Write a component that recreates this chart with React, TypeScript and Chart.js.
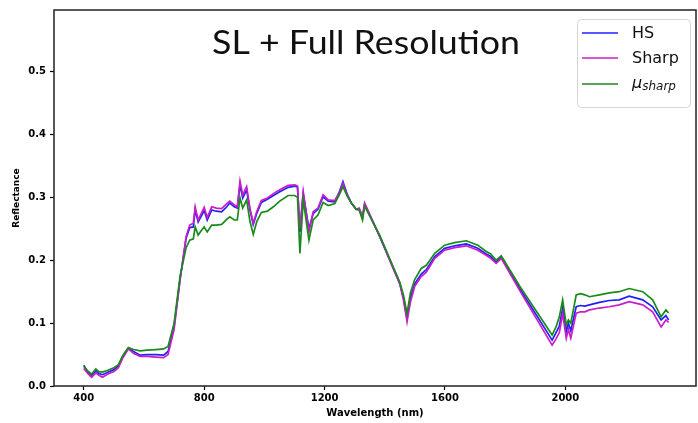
import React, { useEffect, useRef } from 'react';
import { Chart, registerables } from 'chart.js';

Chart.register(...registerables);

const wavelengths = [
  400, 413, 426, 440, 450, 462, 480, 500, 515, 530, 548, 565, 587, 610, 640, 665, 680, 700, 720, 740,
  752, 764, 770, 780, 790, 800, 810, 825, 840, 858, 875, 885, 900, 910, 919, 928, 941, 952, 963, 975,
  990, 1010, 1030, 1051, 1079, 1101, 1110, 1118, 1129, 1148, 1162, 1178, 1195, 1212, 1234, 1250, 1261, 1275, 1289, 1305,
  1315, 1326, 1333, 1383, 1450, 1462, 1474, 1485, 1499, 1521, 1538, 1566, 1599, 1632, 1671, 1709, 1737, 1752, 1770, 1787,
  1848, 1956, 1969, 1980, 1991, 2003, 2010, 2018, 2036, 2050, 2065, 2080, 2113, 2146, 2179, 2212, 2257, 2290, 2318, 2334,
  2343,
];

const hsValues = [
  0.033, 0.022, 0.017, 0.024, 0.020, 0.018, 0.022, 0.026, 0.032, 0.047, 0.060, 0.055, 0.049, 0.050, 0.050, 0.049, 0.055, 0.095, 0.170, 0.235,
  0.252, 0.253, 0.280, 0.261, 0.270, 0.279, 0.264, 0.280, 0.278, 0.277, 0.285, 0.291, 0.285, 0.283, 0.320, 0.299, 0.312, 0.280, 0.257, 0.275,
  0.292, 0.297, 0.303, 0.309, 0.316, 0.318, 0.316, 0.245, 0.306, 0.250, 0.274, 0.281, 0.301, 0.294, 0.293, 0.310, 0.325, 0.305, 0.291, 0.281,
  0.281, 0.268, 0.289, 0.238, 0.163, 0.140, 0.109, 0.140, 0.162, 0.178, 0.185, 0.206, 0.219, 0.223, 0.226, 0.219, 0.210, 0.206, 0.197, 0.205,
  0.155, 0.073, 0.085, 0.095, 0.124, 0.086, 0.100, 0.088, 0.126, 0.128, 0.127, 0.129, 0.133, 0.136, 0.137, 0.143, 0.137, 0.126, 0.105, 0.112,
  0.105,
];

const sharpValues = [
  0.028, 0.020, 0.014, 0.021, 0.017, 0.014, 0.019, 0.023, 0.029, 0.045, 0.059, 0.052, 0.047, 0.047, 0.046, 0.045, 0.050, 0.090, 0.170, 0.238,
  0.256, 0.259, 0.285, 0.264, 0.274, 0.284, 0.268, 0.285, 0.283, 0.282, 0.290, 0.294, 0.288, 0.285, 0.326, 0.304, 0.317, 0.283, 0.259, 0.278,
  0.295, 0.299, 0.306, 0.312, 0.319, 0.320, 0.318, 0.250, 0.309, 0.245, 0.277, 0.283, 0.304, 0.296, 0.295, 0.308, 0.322, 0.304, 0.291, 0.281,
  0.283, 0.270, 0.291, 0.238, 0.162, 0.137, 0.102, 0.133, 0.158, 0.174, 0.181, 0.203, 0.216, 0.220, 0.223, 0.216, 0.208, 0.203, 0.195, 0.203,
  0.152, 0.065, 0.075, 0.085, 0.115, 0.076, 0.090, 0.076, 0.116, 0.118, 0.118, 0.121, 0.124, 0.126, 0.129, 0.134, 0.129, 0.118, 0.094, 0.105,
  0.101,
];

const muSharpValues = [
  0.031, 0.024, 0.019, 0.027, 0.023, 0.022, 0.025, 0.029, 0.034, 0.049, 0.061, 0.058, 0.056, 0.057, 0.058, 0.059, 0.063, 0.100, 0.175, 0.220,
  0.232, 0.234, 0.253, 0.240, 0.247, 0.253, 0.245, 0.256, 0.256, 0.257, 0.265, 0.269, 0.264, 0.264, 0.299, 0.283, 0.296, 0.262, 0.241, 0.262,
  0.276, 0.278, 0.285, 0.294, 0.303, 0.303, 0.300, 0.211, 0.296, 0.232, 0.264, 0.272, 0.292, 0.287, 0.290, 0.305, 0.317, 0.302, 0.291, 0.281,
  0.280, 0.264, 0.286, 0.240, 0.165, 0.145, 0.115, 0.148, 0.169, 0.187, 0.192, 0.211, 0.224, 0.228, 0.231, 0.224, 0.214, 0.210, 0.200, 0.207,
  0.159, 0.081, 0.094, 0.110, 0.137, 0.097, 0.105, 0.100, 0.145, 0.147, 0.145, 0.142, 0.145, 0.148, 0.150, 0.155, 0.150, 0.137, 0.110, 0.121,
  0.116,
];

const xTickLabels = [400, 800, 1200, 1600, 2000];
const yTickLabels = [0.0, 0.1, 0.2, 0.3, 0.4, 0.5];
const titleText = 'SL + Full Resolution';
const xAxisTitle = 'Wavelength (nm)';
const yAxisTitle = 'Reflectance';
const seriesNames = ['HS', 'Sharp', 'μ'];
const muSubscript = 'sharp';
const seriesColors = ['#2020ff', '#c81ec8', '#1a8a1a'];

export default function App() {
  const ref = useRef<HTMLCanvasElement>(null);

  useEffect(() => {
    document.body.style.margin = '0';
    const canvas = ref.current!;
    const toPts = (vals: number[]) => wavelengths.map((w, i) => ({ x: w, y: vals[i] }));

    const overlay = {
      id: 'overlay',
      afterDraw(chart: any) {
        const c = chart.ctx as CanvasRenderingContext2D;
        const a = chart.chartArea;
        c.save();
        // frame
        c.strokeStyle = '#222';
        c.lineWidth = 1.5;
        c.strokeRect(a.left, a.top, a.right - a.left, a.bottom - a.top);

        // title
        c.fillStyle = '#111';
        c.font = '400 33px Lato';
        c.textAlign = 'left';
        c.textBaseline = 'alphabetic';
        const tw = c.measureText(titleText).width;
        const targetW = 308;
        const sx = targetW / tw;
        c.save();
        c.translate(366 - targetW / 2, 54);
        c.scale(sx, 1);
        c.fillText(titleText, 0, 0);
        c.restore();

        // legend box
        c.fillStyle = 'rgba(255,255,255,0.85)';
        c.strokeStyle = '#d6d6d6';
        c.lineWidth = 1;
        c.beginPath();
        (c as any).roundRect(577.5, 19.5, 113, 88, 4);
        c.fill();
        c.stroke();
        const rows = [33, 58, 84];
        for (let i = 0; i < 3; i++) {
          c.strokeStyle = seriesColors[i];
          c.lineWidth = 1.5;
          c.beginPath();
          c.moveTo(582, rows[i]);
          c.lineTo(618, rows[i]);
          c.stroke();
        }
        c.fillStyle = '#111';
        c.textBaseline = 'middle';
        c.font = '16px "DejaVu Sans"';
        c.fillText(seriesNames[0], 632, rows[0] + 1);
        c.fillText(seriesNames[1], 632, rows[1] + 1);
        c.font = 'italic 16px "DejaVu Sans"';
        c.fillText(seriesNames[2], 632, rows[2]);
        const mw = c.measureText(seriesNames[2]).width;
        c.font = 'italic 12px "DejaVu Sans"';
        c.fillText(muSubscript, 632 + mw, rows[2] + 3);

        // axis titles
        c.fillStyle = '#000';
        c.font = 'bold 10px "DejaVu Sans"';
        c.textAlign = 'center';
        c.textBaseline = 'middle';
        c.fillText(xAxisTitle, (a.left + a.right) / 2, 413);
        c.save();
        c.translate(17, (a.top + a.bottom) / 2);
        c.rotate(-Math.PI / 2);
        c.font = 'bold 9px "DejaVu Sans"';
        c.fillText(yAxisTitle, 0, 0);
        c.restore();
        c.restore();
      },
    };

    const gridOpts = {
      display: true,
      drawOnChartArea: false,
      drawTicks: true,
      tickLength: 4,
      tickColor: '#000',
      tickWidth: 1.2,
    };

    const chart = new Chart(canvas, {
      type: 'line',
      data: {
        datasets: [
          { label: 'HS', data: toPts(hsValues), borderColor: seriesColors[0], order: 3 },
          { label: 'Sharp', data: toPts(sharpValues), borderColor: seriesColors[1], order: 2 },
          { label: 'mu_sharp', data: toPts(muSharpValues), borderColor: seriesColors[2], order: 1 },
        ],
      },
      options: {
        responsive: false,
        animation: false,
        layout: { padding: { top: 10, right: 2, left: 0, bottom: 0 } },
        plugins: { legend: { display: false }, tooltip: { enabled: false }, title: { display: false } },
        elements: {
          point: { radius: 0 },
          line: { tension: 0, borderWidth: 1.7, fill: false },
        },
        scales: {
          x: {
            type: 'linear',
            min: 301,
            max: 2434,
            afterBuildTicks: (s: any) => {
              s.ticks = xTickLabels.map((v) => ({ value: v }));
            },
            afterFit: (s: any) => {
              s.height = 37;
            },
            grid: gridOpts,
            border: { display: false },
            ticks: {
              color: '#000',
              font: { family: 'DejaVu Sans', size: 10, weight: 'bold' },
              padding: 2,
              maxRotation: 0,
              autoSkip: false,
              callback: (v: any) => String(v),
            },
          },
          y: {
            type: 'linear',
            min: 0,
            max: 0.598,
            afterBuildTicks: (s: any) => {
              s.ticks = yTickLabels.map((v) => ({ value: v }));
            },
            afterFit: (s: any) => {
              s.width = 54;
            },
            grid: gridOpts,
            border: { display: false },
            ticks: {
              color: '#000',
              font: { family: 'DejaVu Sans', size: 10, weight: 'bold' },
              padding: 4,
              autoSkip: false,
              callback: (v: any) => Number(v).toFixed(1),
            },
          },
        },
      } as any,
      plugins: [overlay],
    });

    return () => chart.destroy();
  }, []);

  return <canvas ref={ref} width={698} height={423} style={{ display: 'block' }} />;
}
